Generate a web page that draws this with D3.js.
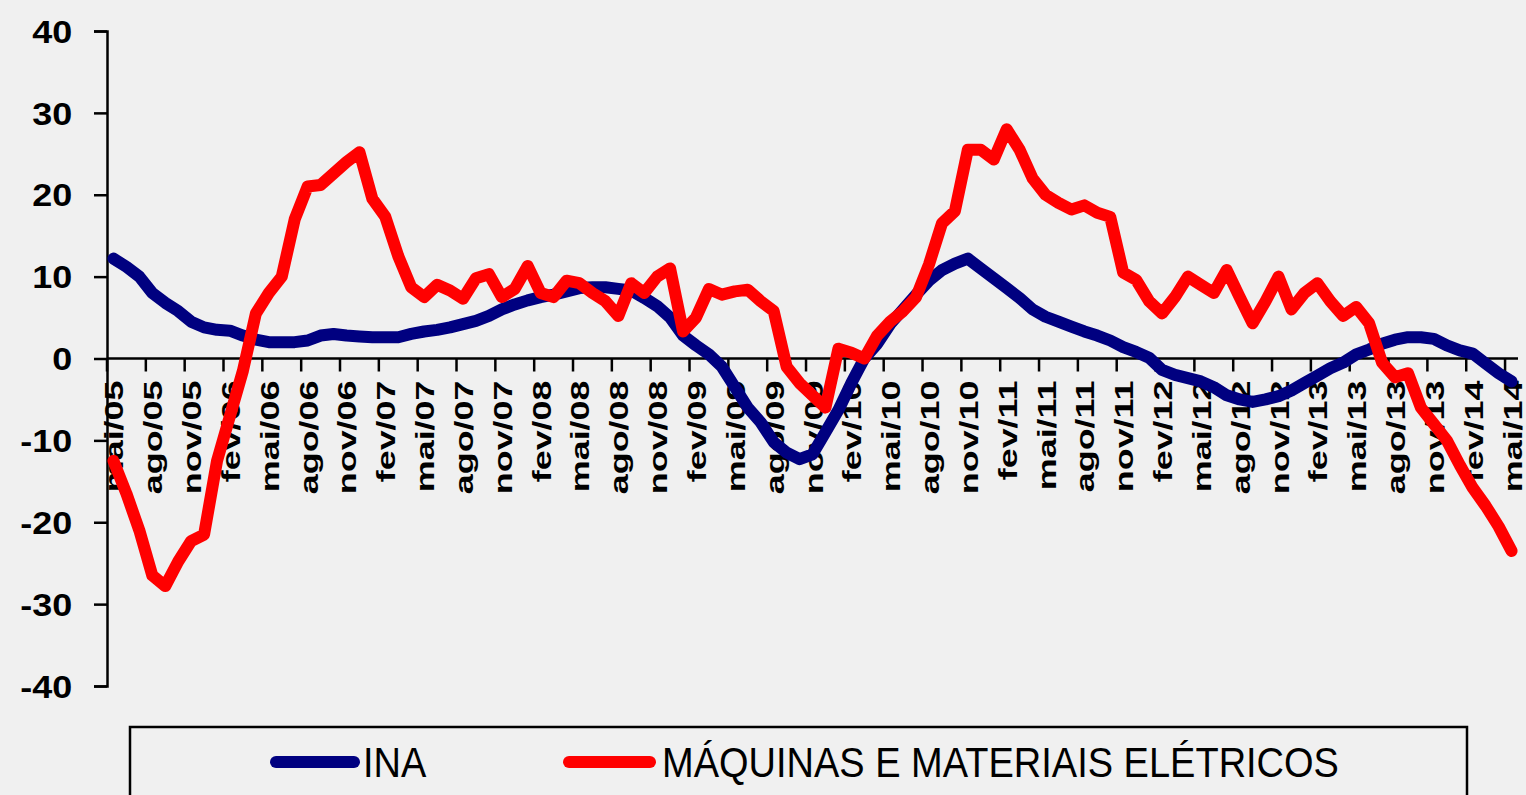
<!DOCTYPE html>
<html>
<head>
<meta charset="utf-8">
<script src="https://cdn.jsdelivr.net/npm/d3@7"></script>
<style>
	html, body { margin: 0; padding: 0; background: #f0f0f0; }
	svg { display: block; }
	text { font-family: Arial, "Liberation Sans", sans-serif; fill: #000; }
</style>
</head>
<body>
<svg id="plot" width="1526" height="795"></svg>
<script>

// categories: monthly, mai/05 .. mai/14
const monthAbbr = ["jan", "fev", "mar", "abr", "mai", "jun", "jul", "ago", "set", "out", "nov", "dez"];
const months = d3.range(109).map(k => {
	const m = (4 + k) % 12;
	const yr = 5 + Math.floor((4 + k) / 12);
	return monthAbbr[m] + "/" + String(yr).padStart(2, "0");
});

const yTicks = [-40, -30, -20, -10, 0, 10, 20, 30, 40];

const seriesNames = ["INA", "MÁQUINAS E MATERIAIS ELÉTRICOS"];

const ina = [
	12.2, 11.2, 10, 8, 6.8, 5.8, 4.5, 3.8, 3.5, 3.4,
	2.8, 2.3, 2, 2, 2, 2.2, 2.8, 3, 2.8, 2.7,
	2.6, 2.6, 2.6, 3, 3.3, 3.5, 3.8, 4.2, 4.6, 5.2,
	6, 6.6, 7.1, 7.5, 7.8, 8.2, 8.6, 8.7, 8.7, 8.5,
	8.3, 7.4, 6.4, 5, 2.8, 1.6, 0.5, -1, -3.5, -6,
	-7.8, -10.2, -11.5, -12.3, -11.7, -9, -6.3, -3, 0, 1.8,
	4.2, 6, 7.8, 9.5, 10.8, 11.6, 12.2, 11, 9.8, 8.6,
	7.4, 6, 5.1, 4.5, 3.9, 3.3, 2.8, 2.2, 1.4, 0.8,
	0.1, -1.4, -2, -2.4, -2.8, -3.5, -4.5, -5, -5.3, -5,
	-4.6, -3.9, -3, -2.1, -1.2, -0.5, 0.5, 1.1, 1.8, 2.3,
	2.6, 2.6, 2.4, 1.6, 1, 0.6, -0.6, -1.8, -2.8
];

const maquinas = [
	-12.5, -16.5, -21, -26.5, -27.8, -24.8, -22.3, -21.5, -12.5, -7,
	-1.5, 5.5, 8, 10, 17, 21, 21.2, 22.6, 24, 25.2,
	19.5, 17.3, 12.5, 8.7, 7.5, 9, 8.3, 7.3, 9.8, 10.3,
	7.5, 8.5, 11.3, 8, 7.5, 9.5, 9.2, 8, 7, 5.2,
	9.2, 8, 10, 11, 3.3, 5, 8.5, 7.8, 8.2, 8.4,
	7, 5.8, -1, -3, -4.5, -6, 1.2, 0.7, 0, 2.8,
	4.5, 5.8, 7.5, 11.5, 16.5, 18, 25.5, 25.5, 24.3, 28,
	25.5, 22, 20, 19, 18.2, 18.7, 17.8, 17.3, 10.5, 9.6,
	7, 5.5, 7.5, 10, 9, 8, 10.8, 7.5, 4.3, 7,
	10, 6, 8, 9.2, 7, 5.2, 6.3, 4.3, -0.5, -2.3,
	-1.8, -6, -8, -10, -13, -15.8, -18, -20.5, -23.5
];

const colors = ["#000080", "#ff0000"];

const svg = d3.select("#plot");

svg.append("rect")
	.attr("width", 1526)
	.attr("height", 795)
	.attr("fill", "#f0f0f0");

const x = d3.scaleBand()
	.domain(months)
	.range([107, 1518])
	.padding(0);

const y = d3.scaleLinear()
	.domain([-40, 40])
	.range([686, 31]);

const xc = m => x(m) + x.bandwidth() / 2;

// y axis
const yAxis = svg.append("g")
	.attr("transform", "translate(107,0)")
	.call(d3.axisLeft(y).tickValues(yTicks).tickSize(13).tickFormat(d => String(d)));

yAxis.select(".domain").attr("stroke", "#000").attr("stroke-width", 2.5);
yAxis.selectAll(".tick line").attr("stroke", "#000").attr("stroke-width", 2.5);
yAxis.selectAll(".tick text")
	.attr("x", -30)
	.attr("dy", "0.36em")
	.attr("transform", "scale(1.16,1)")
	.style("font-size", "31px")
	.style("font-weight", "bold")
	.style("font-family", "Arial, 'Liberation Sans', sans-serif");

// x axis line at zero
svg.append("line")
	.attr("x1", 107)
	.attr("x2", 1518)
	.attr("y1", y(0))
	.attr("y2", y(0))
	.attr("stroke", "#000")
	.attr("stroke-width", 2.5);

const tickMonths = months.filter((m, i) => i % 3 === 0);

svg.append("g")
	.selectAll("line")
	.data(tickMonths)
	.enter()
	.append("line")
	.attr("x1", d => x(d))
	.attr("x2", d => x(d))
	.attr("y1", y(0))
	.attr("y2", y(0) + 13)
	.attr("stroke", "#000")
	.attr("stroke-width", 2.5);

svg.append("g")
	.selectAll("text")
	.data(tickMonths)
	.enter()
	.append("text")
	.attr("text-anchor", "end")
	.attr("transform", d => "translate(" + (xc(d) + 10) + "," + (y(0) + 22) + ") rotate(-90) scale(1.38,1)")
	.style("font-size", "26px")
	.style("font-weight", "bold")
	.text(d => d);

// series lines
const line = d3.line()
	.x((d, i) => xc(months[i]))
	.y(d => y(d));

[ina, maquinas].forEach((values, k) => {
	svg.append("path")
		.datum(values)
		.attr("d", line)
		.attr("fill", "none")
		.attr("stroke", colors[k])
		.attr("stroke-width", 12)
		.attr("stroke-linejoin", "round")
		.attr("stroke-linecap", "round");
});

// legend
const legend = svg.append("g");

legend.append("rect")
	.attr("x", 130)
	.attr("y", 727)
	.attr("width", 1337)
	.attr("height", 100)
	.attr("fill", "none")
	.attr("stroke", "#000")
	.attr("stroke-width", 2.5);

const legendPos = [
	{lx1: 276, lx2: 354, tx: 363},
	{lx1: 569, lx2: 650, tx: 662}
];

seriesNames.forEach((name, k) => {
	legend.append("line")
		.attr("x1", legendPos[k].lx1)
		.attr("x2", legendPos[k].lx2)
		.attr("y1", 762)
		.attr("y2", 762)
		.attr("stroke", colors[k])
		.attr("stroke-width", 12)
		.attr("stroke-linecap", "round");

	legend.append("text")
		.attr("transform", "translate(" + legendPos[k].tx + ",777) scale(1,1.1)")
		.style("font-size", "38px")
		.text(name);
});

</script>
</body>
</html>
